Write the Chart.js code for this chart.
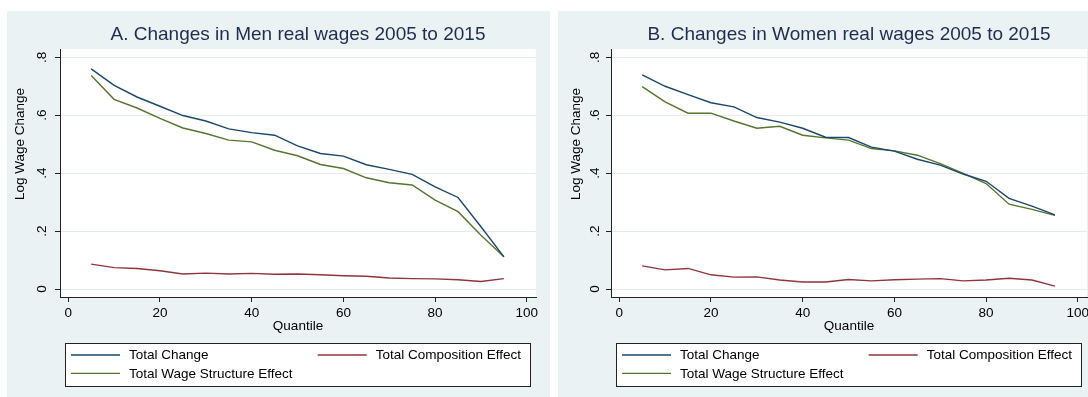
<!DOCTYPE html>
<html>
<head>
<meta charset="utf-8">
<script src="https://cdn.jsdelivr.net/npm/chart.js@4.4.1/dist/chart.umd.min.js"></script>
<style>
html,body{margin:0;padding:0;background:#fff;width:1088px;height:397px;overflow:hidden;position:relative;}
canvas{position:absolute;}
#men{left:7px;top:11px;}
#women{left:558px;top:11px;}
</style>
</head>
<body>
<canvas id="men" width="543" height="386"></canvas>
<canvas id="women" width="543" height="386"></canvas>
<script>
// Quantiles of the wage distribution
const quantiles = [5, 10, 15, 20, 25, 30, 35, 40, 45, 50, 55, 60, 65, 70, 75, 80, 85, 90, 95];

// Men: decomposition of log real wage change, 2005-2015
const menTotalChange   = [0.760, 0.703, 0.663, 0.631, 0.599, 0.580, 0.553, 0.540, 0.531, 0.494, 0.468, 0.459, 0.429, 0.413, 0.396, 0.353, 0.316, 0.215, 0.111];
const menComposition   = [0.086, 0.074, 0.071, 0.063, 0.052, 0.055, 0.052, 0.054, 0.051, 0.052, 0.049, 0.046, 0.044, 0.038, 0.036, 0.035, 0.032, 0.026, 0.036];
const menWageStructure = [0.737, 0.655, 0.625, 0.589, 0.556, 0.537, 0.514, 0.508, 0.479, 0.460, 0.430, 0.416, 0.384, 0.367, 0.359, 0.307, 0.267, 0.186, 0.111];

// Women: decomposition of log real wage change, 2005-2015
const womenTotalChange   = [0.739, 0.700, 0.671, 0.643, 0.629, 0.592, 0.576, 0.555, 0.524, 0.523, 0.490, 0.476, 0.448, 0.428, 0.397, 0.372, 0.313, 0.286, 0.256];
const womenComposition   = [0.080, 0.066, 0.071, 0.049, 0.041, 0.042, 0.031, 0.024, 0.024, 0.033, 0.028, 0.032, 0.034, 0.036, 0.028, 0.031, 0.037, 0.031, 0.010];
const womenWageStructure = [0.699, 0.646, 0.607, 0.607, 0.580, 0.555, 0.562, 0.531, 0.522, 0.514, 0.485, 0.477, 0.462, 0.433, 0.399, 0.364, 0.293, 0.275, 0.254];

// Axis ticks and labels
const xTicks = [0, 20, 40, 60, 80, 100];
const yTicks = [0, 0.2, 0.4, 0.6, 0.8];
const seriesLabels = ['Total Change', 'Total Composition Effect', 'Total Wage Structure Effect'];
const seriesColors = ['#1a476f', '#90353b', '#55752f'];

const FONT = "'Liberation Sans', Arial, Helvetica, sans-serif";
const PANEL_BG = '#eaf2f3';
const GRID = '#e4ecef';
const TITLE_COLOR = '#1e2c50';

Chart.defaults.font.family = FONT;

const framePlugin = {
  id: 'stataFrame',
  beforeDraw(chart) {
    const {ctx, chartArea: a, width, height} = chart;
    ctx.save();
    ctx.fillStyle = PANEL_BG;
    ctx.fillRect(0, 0, width, height);
    ctx.fillStyle = '#ffffff';
    ctx.fillRect(a.left, a.top, a.right - a.left, a.bottom - a.top);
    ctx.restore();
  },
  afterDraw(chart, args, opts) {
    const {ctx, chartArea: a} = chart;
    const cx = (a.left + a.right) / 2;
    ctx.save();
    ctx.textBaseline = 'middle';
    ctx.textAlign = 'center';

    // graph title
    ctx.fillStyle = TITLE_COLOR;
    ctx.font = '19px ' + FONT;
    ctx.fillText(opts.title, cx, 24);

    // axis titles
    ctx.fillStyle = '#000';
    ctx.font = '13.5px ' + FONT;
    ctx.fillText('Quantile', cx, 315);
    ctx.save();
    ctx.translate(opts.yTitleX, 133);
    ctx.rotate(-Math.PI / 2);
    ctx.fillText('Log Wage Change', 0, 0);
    ctx.restore();

    // legend box
    const box = {x: 58.5, y: 332.5, w: 465, h: 43};
    ctx.fillStyle = '#fff';
    ctx.fillRect(box.x, box.y, box.w, box.h);
    ctx.strokeStyle = '#222';
    ctx.lineWidth = 1;
    ctx.strokeRect(box.x, box.y, box.w, box.h);

    const colX = [64, 310.7];
    const rowY = [344, 362.3];
    ctx.textAlign = 'left';
    chart.data.datasets.forEach((ds, i) => {
      const col = i % 2, row = Math.floor(i / 2);
      const x0 = colX[col], y0 = rowY[row];
      ctx.strokeStyle = ds.borderColor;
      ctx.lineWidth = 1.3;
      ctx.beginPath();
      ctx.moveTo(x0, y0);
      ctx.lineTo(x0 + 49, y0);
      ctx.stroke();
      ctx.fillStyle = '#000';
      ctx.fillText(ds.label, x0 + 58, y0 + 0.5);
    });
    ctx.restore();
  }
};

function makeChart(id, title, seriesValues, tickPad, yTitleX) {
  const datasets = seriesValues.map((vals, i) => ({
    label: seriesLabels[i],
    data: quantiles.map((q, k) => ({x: q, y: vals[k]})),
    borderColor: seriesColors[i],
    backgroundColor: seriesColors[i],
    borderWidth: 1.4,
    pointRadius: 0,
    tension: 0,
    fill: false
  }));

  return new Chart(document.getElementById(id), {
    type: 'line',
    data: {datasets},
    plugins: [framePlugin],
    options: {
      responsive: false,
      maintainAspectRatio: false,
      animation: false,
      events: [],
      layout: {padding: {top: 38, right: 14, left: 0, bottom: 0}},
      plugins: {
        legend: {display: false},
        title: {display: false},
        tooltip: {enabled: false},
        stataFrame: {title, yTitleX}
      },
      scales: {
        x: {
          type: 'linear',
          min: -1.8,
          max: 102,
          afterFit(s) { s.height = 100; },
          afterBuildTicks(s) { s.ticks = xTicks.map(v => ({value: v})); },
          grid: {drawOnChartArea: false, drawTicks: true, tickLength: 5, tickColor: '#222'},
          border: {display: true, color: '#222', width: 1},
          ticks: {
            color: '#000',
            font: {size: 13.5},
            padding: 3,
            maxRotation: 0,
            autoSkip: false,
            callback: v => String(v)
          }
        },
        y: {
          type: 'linear',
          min: -0.0276,
          max: 0.8287,
          afterFit(s) { s.width = 53; },
          afterBuildTicks(s) { s.ticks = yTicks.map(v => ({value: v})); },
          grid: {color: GRID, lineWidth: 1, drawTicks: true, tickLength: 5, tickColor: '#222'},
          border: {display: true, color: '#222', width: 1},
          ticks: {
            color: '#000',
            font: {size: 13.5},
            minRotation: 90,
            maxRotation: 90,
            crossAlign: 'center',
            padding: tickPad,
            autoSkip: false,
            callback: v => (v === 0 ? '0' : v.toFixed(1).replace(/^0/, ''))
          }
        }
      }
    }
  });
}

makeChart('men', 'A. Changes in Men real wages 2005 to 2015',
  [menTotalChange, menComposition, menWageStructure], 7.4, 13);
makeChart('women', 'B. Changes in Women real wages 2005 to 2015',
  [womenTotalChange, womenComposition, womenWageStructure], 5.4, 18.7);
</script>
</body>
</html>
